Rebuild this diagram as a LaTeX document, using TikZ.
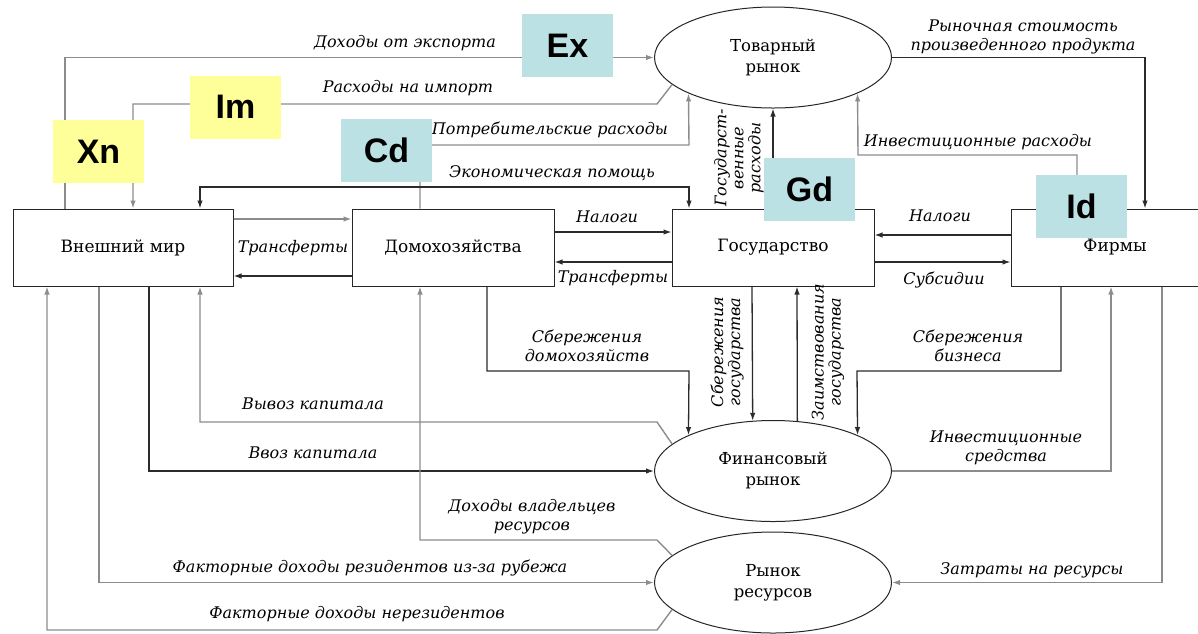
\documentclass[tikz,border=0pt]{standalone}
\usepackage{fontspec}
\setmainfont{DejaVu Serif}
\newfontfamily\serifru{DejaVu Serif}
\newfontfamily\tagfont{Liberation Sans}
\usetikzlibrary{arrows.meta,shapes.geometric}
\definecolor{tagblue}{HTML}{BCE1E4}
\definecolor{tagyellow}{HTML}{FFFF99}
\definecolor{grayline}{HTML}{8C8C8C}
\definecolor{darkline}{HTML}{2B2B2B}
\begin{document}
\begin{tikzpicture}[x=1pt,y=-1pt,
  agent/.style={draw=black!85,line width=1pt,rectangle,minimum width=#1,minimum height=77pt,inner sep=0pt,font=\serifru\fontsize{17}{20}\selectfont},
  mkt/.style={draw=black!85,line width=1pt,ellipse,minimum width=237pt,minimum height=101pt,inner sep=0pt,align=center,font=\serifru\fontsize{16.5}{21}\selectfont},
  tagbox/.style={fill=#1,minimum width=91pt,minimum height=63pt,inner sep=0pt,font=\tagfont\bfseries\fontsize{34}{34}\selectfont},
  lab/.style={font=\serifru\itshape\fontsize{16}{19}\selectfont,align=center,inner sep=0pt},
  vlab/.style={font=\serifru\itshape\fontsize{16}{17}\selectfont,align=center,inner sep=0pt,rotate=90},
  gl/.style={draw=grayline,line width=1.4pt},
  dl/.style={draw=darkline,line width=1.3pt},
  arr/.style={-{Latex[length=8pt,width=5.5pt]}},
  arrb/.style={{Latex[length=8pt,width=5.5pt]}-{Latex[length=8pt,width=5.5pt]}}
]
\useasboundingbox (0,0) rectangle (1198,633);
\clip (0,0) rectangle (1198,633);

% agents
\node[agent=220pt] (vm) at (123,247.5) {Внешний мир};
\node[agent=202pt] (hh) at (453,247.5) {Домохозяйства};
\node[agent=202pt] (gov) at (773,247.5) {Государство};
\node[agent=208pt] (firms) at (1115,247.5) {Фирмы};

% markets
\node[mkt] (tm) at (773,57.5) {Товарный\\рынок};
\node[mkt] (fm) at (773,471) {Финансовый\\рынок};
\node[mkt] (rr) at (773,582.5) {Рынок\\ресурсов};

% connectors
\draw[gl,arr] (vm.north -| 65,0) |- (tm.west);
\draw[gl,arr] (tm.195) -- (657,104) -- (133,104) -- (vm.north -| 133,0);
\draw[gl,arr] (hh.north -| 420,0) |- (689,145) -- (tm.203);
\draw[dl,arrb] (vm.north -| 200,0) -- (200,187) -- (689,187) -- (gov.north -| 689,0);
\draw[dl,arr] (gov.north) -- (tm.south);
\draw[gl,arr] (firms.north -| 1077,0) |- (858,155) -- (tm.337.5);
\draw[dl,arr] (tm.east) -| (firms.north -| 1145,0);

\draw[gl,arr] (vm.east |- 0,219) -- (hh.west |- 0,219);
\draw[dl,arr] (hh.west |- 0,276) -- (vm.east |- 0,276);
\draw[dl,arr] (hh.east |- 0,232) -- (gov.west |- 0,232);
\draw[dl,arr] (gov.west |- 0,262) -- (hh.east |- 0,262);
\draw[dl,arr] (firms.west |- 0,235) -- (gov.east |- 0,235);
\draw[dl,arr] (gov.east |- 0,262) -- (firms.west |- 0,262);

\draw[dl,arr] (hh.south -| 487,0) |- (689,371) -- (fm.157);
\draw[dl,arr] (gov.south -| 752,0) -- (fm.112.9);
\draw[dl,arr] (fm.64.1) -- (gov.south -| 797,0);
\draw[dl,arr] (firms.south -| 1061,0) |- (857,371) -- (fm.23);
\draw[gl,arr] (fm.east) -| (firms.south -| 1111,0);
\draw[gl,arr] (firms.south -| 1162,0) |- (rr.east);

\draw[gl,arr] (fm.165) -- (657,422) -| (vm.south -| 200,0);
\draw[dl,arr] (vm.south -| 149,0) |- (fm.west);
\draw[gl,arr] (rr.165) -- (657,540) -| (hh.south -| 420,0);
\draw[gl,arr] (vm.south -| 99,0) |- (rr.west);
\draw[gl,arr] (rr.195) -- (657,630) -| (vm.south -| 47,0);

% labels
\node[lab] (l1) at (405,43) {Доходы от экспорта};
\node[lab] (l2) at (408,88) {Расходы на импорт};
\node[lab] (l3) at (550,130) {Потребительские расходы};
\node[lab] (l4) at (552,173) {Экономическая помощь};
\node[vlab] (l5) at (739,158) {Государст-\\венные\\расходы};
\node[lab] (l6) at (978,142) {Инвестиционные расходы};
\node[lab] (l7) at (1023,37) {Рыночная стоимость\\произведенного продукта};
\node[lab] (l8) at (293,248) {Трансферты};
\node[lab] (l9) at (607,217) {Налоги};
\node[lab] (l10) at (613,278) {Трансферты};
\node[lab] (l11) at (940,216) {Налоги};
\node[lab] (l12) at (944,280) {Субсидии};
\node[lab] (l13) at (587,346) {Сбережения\\домохозяйств};
\node[vlab] (l14) at (727,352) {Сбережения\\государства};
\node[vlab] (l15) at (828,352) {Заимствования\\государства};
\node[lab] (l16) at (968,346) {Сбережения\\бизнеса};
\node[lab] (l17) at (1006,448) {Инвестиционные\\средства};
\node[lab] (l18) at (1032,570) {Затраты на ресурсы};
\node[lab] (l19) at (313,404) {Вывоз капитала};
\node[lab] (l20) at (313,453) {Ввоз капитала};
\node[lab] (l21) at (532,517) {Доходы владельцев\\ресурсов};
\node[lab] (l22) at (370,568) {Факторные доходы резидентов из-за рубежа};
\node[lab] (l23) at (357,614) {Факторные доходы нерезидентов};

% tags
\node[tagbox=tagblue] (ex) at (567.5,45.5) {Ex};
\node[tagbox=tagyellow] (im) at (235.5,107) {Im};
\node[tagbox=tagyellow] (xn) at (98.5,151.5) {Xn};
\node[tagbox=tagblue] (cd) at (386.5,150) {Cd};
\node[tagbox=tagblue] (gd) at (809.5,189) {Gd};
\node[tagbox=tagblue] (id) at (1081.5,206.5) {Id};
\end{tikzpicture}
\end{document}
